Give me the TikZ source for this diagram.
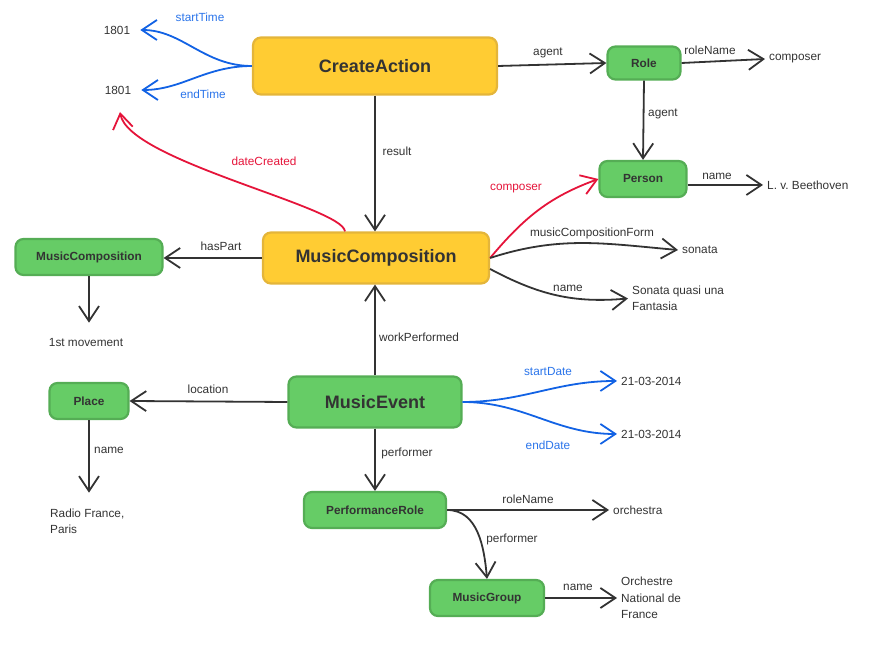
\documentclass[tikz,border=0pt]{standalone}
\usepackage{fontspec}
\setmainfont{Liberation Sans}
\usetikzlibrary{arrows.meta}

\definecolor{fillyellow}{HTML}{FFCC33}
\definecolor{lineyellow}{HTML}{E4B53A}
\definecolor{fillgreen}{HTML}{66CC66}
\definecolor{linegreen}{HTML}{55AD55}
\definecolor{txtgray}{HTML}{333333}
\definecolor{edgeblue}{HTML}{1262E4}
\definecolor{lblblue}{HTML}{2A74EA}
\definecolor{edgered}{HTML}{E5143A}

\begin{document}
\frenchspacing
\begin{tikzpicture}[x=10pt, y=10pt,
  box/.style={line width=2.2pt, rounded corners=8pt, text=txtgray, inner sep=0pt},
  ybox/.style={box, draw=lineyellow, fill=fillyellow},
  gbox/.style={box, draw=linegreen, fill=fillgreen},
  big/.style={font=\fontsize{18}{20}\selectfont\bfseries},
  small/.style={font=\fontsize{11.8}{14}\selectfont\bfseries},
  lbl/.style={text=txtgray, font=\fontsize{11.8}{14}\selectfont, inner sep=1pt},
  bluelbl/.style={lbl, text=lblblue},
  redlbl/.style={lbl, text=edgered},
  lit/.style={text=txtgray, font=\fontsize{11.8}{16.5}\selectfont, inner xsep=4pt, inner ysep=2pt, align=left},
  link/.style={draw=txtgray, line width=1.8pt, line join=round, -{Straight Barb[length=15pt,width=20pt]}},
  bluelink/.style={link, draw=edgeblue},
  redlink/.style={link, draw=edgered}]

\useasboundingbox (0,0) rectangle (87,64.7);

% -------- classes -----------
\node [ybox, big, minimum width=244pt, minimum height=57pt] (ca) at (37.5, 58.1) {CreateAction};
\node [gbox, small, minimum width=73pt, minimum height=33pt] (role) at (64.4, 58.4) {Role};
\node [gbox, small, minimum width=87pt, minimum height=36pt] (person) at (64.3, 46.8) {Person};
\node [ybox, big, minimum width=226pt, minimum height=51pt] (mc) at (37.6, 38.9) {MusicComposition};
\node [gbox, small, minimum width=147pt, minimum height=36pt] (part) at (8.9, 39.0) {MusicComposition};
\node [gbox, big, minimum width=173pt, minimum height=51pt] (event) at (37.5, 24.5) {MusicEvent};
\node [gbox, small, minimum width=79pt, minimum height=36pt] (place) at (8.9, 24.6) {Place};
\node [gbox, small, minimum width=142pt, minimum height=36pt] (prole) at (37.5, 13.7) {PerformanceRole};
\node [gbox, small, minimum width=114pt, minimum height=36pt] (group) at (48.7, 4.9) {MusicGroup};

% -------- values -----------
\node [lit] (st) at (11.7, 61.7) {1801};
\node [lit] (et) at (11.8, 55.7) {1801};
\coordinate (dc) at (12.0, 53.5);
\node [lit, anchor=west] (rname) at (76.5, 58.8) {composer};
\node [lit, anchor=west] (pname) at (76.3, 46.2) {L. v. Beethoven};
\node [lit, anchor=west] (form) at (67.8, 39.7) {sonata};
\node [lit, anchor=west] (title) at (62.8, 34.85) {Sonata quasi una\\Fantasia};
\node [lit] (mov) at (8.6, 30.4) {1st movement};
\node [lit, anchor=west] (city) at (4.6, 12.55) {Radio France,\\Paris};
\node [lit, anchor=west] (sdate) at (61.7, 26.6) {21-03-2014};
\node [lit, anchor=west] (edate) at (61.7, 21.3) {21-03-2014};
\node [lit, anchor=west] (orch) at (60.9, 13.7) {orchestra};
\node [lit, anchor=west] (gname) at (61.7, 4.9) {Orchestre\\National de\\France};

% -------- links -----------
\draw [bluelink, shorten >=6pt] (ca.west) to[out=180, in=0] (st.east);
\draw [bluelink, shorten >=6pt] (ca.west) to[out=180, in=0] (et.east);
\draw [link] (ca.east) -- (role.west);
\draw [link] (role.east) -- (rname.west);
\draw [link] (role.south) -- (person.north);
\draw [link] (person.east |- pname.west) -- (pname.west);
\draw [link] (ca.south) -- (ca.south |- mc.north);
\draw [redlink] ([xshift=-31pt]mc.north) to[out=95, in=-80, out looseness=0.25, in looseness=0.5] (dc);
\draw [redlink] (mc.east) to[out=50, in=200] (person.west);
\draw [link] (mc.east) to[out=18, in=175] (form.west);
\draw [link] ([yshift=-11pt]mc.east) to[out=-28, in=185] (title.west);
\draw [link] (mc.west) -- (mc.west -| part.east);
\draw [link, shorten >=14pt] (part.south) -- (part.south |- mov.north);
\draw [link] (event.north) -- (event.north |- mc.south);
\draw [link] (event.west) -- (place.east);
\draw [link, shorten >=14pt] (place.south) -- (place.south |- city.north);
\draw [bluelink] (event.east) to[out=0, in=180] (sdate.west);
\draw [bluelink] (event.east) to[out=0, in=180] (edate.west);
\draw [link] (event.south) -- (prole.north);
\draw [link] (prole.east) -- (orch.west);
\draw [link] (prole.east) to[out=0, in=95] (group.north);
\draw [link] (group.east) -- (gname.west);

% -------- labels -----------
\node [bluelbl] (l1) at (20.0, 63.0) {startTime};
\node [bluelbl] (l2) at (20.3, 55.3) {endTime};
\node [lbl] (l3) at (54.8, 59.4) {agent};
\node [lbl] (l4) at (71.0, 59.7) {roleName};
\node [lbl] (l5) at (66.3, 53.3) {agent};
\node [lbl] (l6) at (71.7, 47.1) {name};
\node [lbl] (l7) at (39.7, 49.6) {result};
\node [redlbl] (l8) at (26.4, 48.6) {dateCreated};
\node [redlbl] (l9) at (51.6, 45.8) {composer};
\node [lbl] (l10) at (59.2, 41.4) {musicCompositionForm};
\node [lbl] (l11) at (56.8, 35.9) {name};
\node [lbl] (l12) at (22.1, 40.1) {hasPart};
\node [lbl] (l13) at (41.9, 31.0) {workPerformed};
\node [lbl] (l14) at (20.8, 25.8) {location};
\node [lbl] (l15) at (10.9, 19.7) {name};
\node [bluelbl] (l16) at (54.8, 27.5) {startDate};
\node [bluelbl] (l17) at (54.8, 20.2) {endDate};
\node [lbl] (l18) at (40.7, 19.4) {performer};
\node [lbl] (l19) at (52.8, 14.8) {roleName};
\node [lbl] (l20) at (51.2, 10.8) {performer};
\node [lbl] (l21) at (57.8, 6.0) {name};

\end{tikzpicture}
\end{document}
